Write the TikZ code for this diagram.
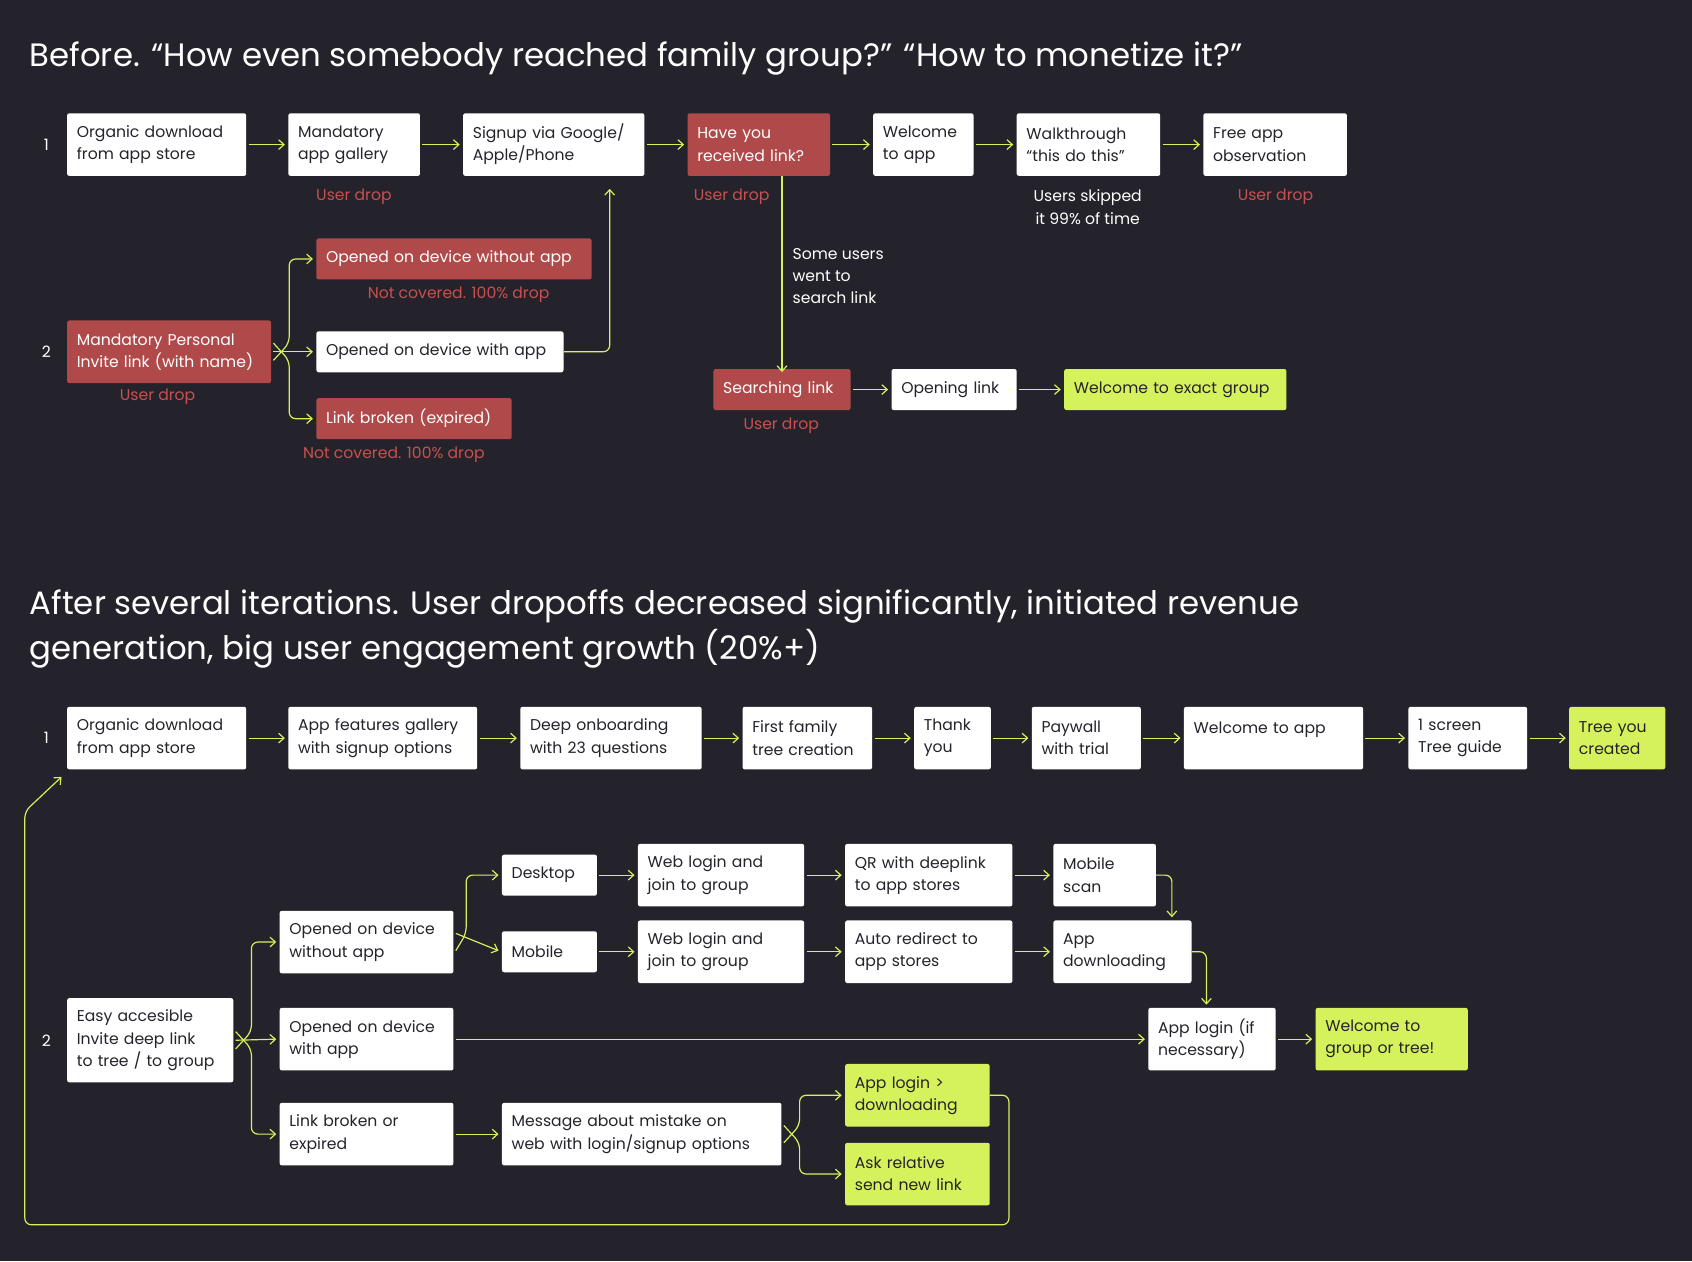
\documentclass[tikz,border=0pt]{standalone}
\usepackage{fontspec}
\setmainfont{Poppins}
\usetikzlibrary{arrows.meta,positioning}
\definecolor{bgc}{HTML}{24232C}
\definecolor{redbox}{HTML}{B04A4A}
\definecolor{redtxt}{HTML}{C8504E}
\definecolor{lime}{HTML}{D5F25C}
\newcommand{\fsb}{\fontsize{14.5}{20.5}\selectfont}
\newcommand{\fst}{\fontsize{30}{42}\selectfont}
\tikzset{
  box/.style={fill=white,text=bgc,rounded corners=2,anchor=west,minimum height=58,
    inner xsep=9,inner ysep=2,align=left,font=\fsb,text width=#1},
  rbox/.style={box=#1,fill=redbox,text=white},
  gbox/.style={box=#1,fill=lime},
  lo/.style={minimum height=38},
  drop/.style={text=redtxt,font=\fsb,align=center},
  note/.style={text=white,font=\fsb,align=left},
  num/.style={text=white,font=\fsb},
  flow/.style={draw=lime,line width=1.1pt,-{Straight Barb[length=5pt,width=9pt]}},
  loop/.style={flow,rounded corners=6}
}
\begin{document}
\begin{tikzpicture}[x=1pt,y=-1pt]
\fill[bgc] (0,0) rectangle (1568,1169);
\useasboundingbox (0,0) rectangle (1568,1169);

% before
\node[text=white,font=\fst,anchor=west] (t1) at (24,54) {Before. “How even somebody reached family group?” “How to monetize it?”};
\node[num] (n1) at (43,134) {1};
\node[box=148] (a1) at (62,134) {Organic download\\from app store};
\node[box=104] (a2) at (267,134) {Mandatory\\app gallery};
\node[box=150] (a3) at (429,134) {Signup via Google/\\Apple/Phone};
\node[rbox=114] (a4) at (637,134) {Have you\\received link?};
\node[box=75] (a5) at (809,134) {Welcome\\to app};
\node[box=115] (a6) at (942,134) {Walkthrough\\“this do this”};
\node[box=115] (a7) at (1115,134) {Free app\\observation};
\node[drop] (d2) at (328,182) {User drop};
\node[drop] (d4) at (678,182) {User drop};
\node[drop] (d7) at (1182,182) {User drop};
\node[note,align=center] (s6) at (1008,192) {Users skipped\\it 99\% of time};
\foreach \p/\q in {a1/a2,a2/a3,a3/a4,a4/a5,a5/a6,a6/a7}
  \draw[flow] ([xshift=2]\p.east) -- ([xshift=-3]\q.west);

\node[num] (n2) at (43,326) {2};
\node[rbox=171] (b1) at (62,326) {Mandatory Personal\\Invite link (with name)};
\node[rbox=237,lo] (b2) at (293,240) {Opened on device without app};
\node[box=211,lo] (b3) at (293,326) {Opened on device with app};
\node[rbox=163,lo] (b4) at (293,388) {Link broken (expired)};
\node[drop] (d1) at (146,368) {User drop};
\node[drop] (db2) at (425,273) {Not covered. 100\% drop};
\node[drop] (db4) at (365,421) {Not covered. 100\% drop};
\coordinate (k3) at (565,175);
\draw[loop] ([xshift=2,yshift=-8]b1.east) -- (268,318) |- ([xshift=-3]b2.west);
\draw[flow] ([xshift=2]b1.east) -- ([xshift=-3]b3.west);
\draw[loop] ([xshift=2,yshift=8]b1.east) -- (268,334) |- ([xshift=-3]b4.west);
\draw[loop] (b3.east) -| (k3);

\node[rbox=109,lo] (c1) at (661,361) {Searching link};
\node[box=98,lo] (c2) at (826,361) {Opening link};
\node[gbox=188,lo] (c3) at (986,361) {Welcome to exact group};
\node[note] (sl) at (731,256) [anchor=west] {Some users\\went to\\search link};
\node[drop] (dc1) at (724,395) {User drop};
\draw[flow] (a4.south -| c1.north) -- ([yshift=-3]c1.north);
\draw[flow] ([xshift=2]c1.east) -- ([xshift=-3]c2.west);
\draw[flow] ([xshift=2]c2.east) -- ([xshift=-3]c3.west);

% after
\node[text=white,font=\fst,anchor=west,align=left] (t2) at (24,583) {After several iterations. User dropoffs decreased significantly, initiated revenue\\generation, big user engagement growth (20\%+)};
\node[num] (m1) at (43,684) {1};
\node[box=148] (e1) at (62,684) {Organic download\\from app store};
\node[box=157] (e2) at (267,684) {App features gallery\\with signup options};
\node[box=150] (e3) at (482,684) {Deep onboarding\\with 23 questions};
\node[box=102] (e4) at (688,684) {First family\\tree creation};
\node[box=53] (e5) at (847,684) {Thank\\you};
\node[box=83] (e6) at (956,684) {Paywall\\with trial};
\node[box=148,text depth=20] (e7) at (1097,684) {Welcome to app};
\node[box=92] (e8) at (1305,684) {1 screen\\Tree guide};
\node[gbox=71] (e9) at (1454,684) {Tree you\\created};
\foreach \p/\q in {e1/e2,e2/e3,e3/e4,e4/e5,e5/e6,e6/e7,e7/e8,e8/e9}
  \draw[flow] ([xshift=2]\p.east) -- ([xshift=-3]\q.west);

\node[num] (m2) at (43,964) {2};
\node[box=136,minimum height=78] (f0) at (62,964) {Easy accesible\\Invite deep link\\to tree / to group};
\node[box=143] (f1) at (259,873) {Opened on device\\without app};
\node[box=143] (f2) at (259,963) {Opened on device\\with app};
\node[box=143] (f3) at (259,1051) {Link broken or\\expired};
\node[box=70,lo] (g1) at (465,811) {Desktop};
\node[box=70,lo] (g2) at (465,882) {Mobile};
\node[box=136] (h1) at (591,811) {Web login and\\join to group};
\node[box=136] (h2) at (591,882) {Web login and\\join to group};
\node[box=137] (i1) at (783,811) {QR with deeplink\\to app stores};
\node[box=137] (i2) at (783,882) {Auto redirect to\\app stores};
\node[box=77] (j1) at (976,811) {Mobile\\scan};
\node[box=110] (j2) at (976,882) {App\\downloading};
\node[box=100] (k1) at (1064,963) {App login (if\\necessary)};
\node[gbox=123] (k2) at (1219,963) {Welcome to\\group or tree!};
\node[box=241] (l1) at (465,1051) {Message about mistake on\\web with login/signup options};
\node[gbox=116] (l2) at (783,1015) {App login >\\downloading};
\node[gbox=116] (l3) at (783,1088) {Ask relative\\send new link};

\draw[loop] ([xshift=2,yshift=-8]f0.east) -- (233,956) |- ([xshift=-3]f1.west);
\draw[flow] ([xshift=2]f0.east) -- ([xshift=-3]f2.west);
\draw[loop] ([xshift=2,yshift=8]f0.east) -- (233,972) |- ([xshift=-3]f3.west);
\draw[loop] ([xshift=2,yshift=-8]f1.east) -- (432,865) |- ([xshift=-3]g1.west);
\draw[flow] ([xshift=2,yshift=8]f1.east) -- ([xshift=-3]g2.west |- 881,881);
\draw[flow] ([xshift=2]f2.east) -- ([xshift=-3]k1.west);
\draw[flow] ([xshift=2]f3.east) -- ([xshift=-3]l1.west);
\foreach \p/\q in {g1/h1,h1/i1,i1/j1,g2/h2,h2/i2,i2/j2,k1/k2}
  \draw[flow] ([xshift=2]\p.east) -- ([xshift=-3]\q.west);
\coordinate (q1) at (1086,850);
\coordinate (q2) at (1118,931);
\draw[loop] (j1.east) -| (q1);
\draw[loop] (j2.east) -| (q2);
\draw[loop] ([xshift=2,yshift=-8]l1.east) -- (741,1043) |- ([xshift=-3]l2.west);
\draw[loop] ([xshift=2,yshift=8]l1.east) -- (741,1059) |- ([xshift=-3]l3.west);
\coordinate (q0) at (57,720);
\draw[loop] (l2.east) -- (935,1015) -- (935,1135) -- (23,1135) -- (23,752) -- (q0);
\end{tikzpicture}
\end{document}
